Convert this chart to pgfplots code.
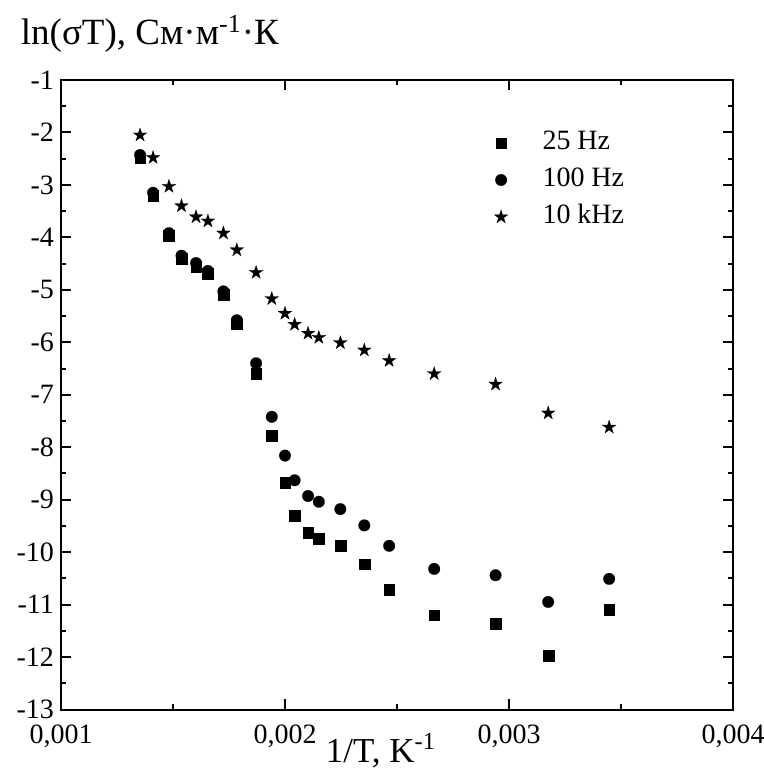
\documentclass[border=0pt]{standalone}
\usepackage{fontspec}
\setmainfont{Liberation Serif}
\usepackage{pgfplots}
\pgfplotsset{compat=1.18}
\usepackage{pgfplotstable}

\pgfdeclareplotmark{fstar}{%
  \pgfpathmoveto{\pgfpointpolar{90}{\pgfplotmarksize}}%
  \pgfpathlineto{\pgfpointpolar{126}{0.382\pgfplotmarksize}}%
  \pgfpathlineto{\pgfpointpolar{162}{\pgfplotmarksize}}%
  \pgfpathlineto{\pgfpointpolar{198}{0.382\pgfplotmarksize}}%
  \pgfpathlineto{\pgfpointpolar{234}{\pgfplotmarksize}}%
  \pgfpathlineto{\pgfpointpolar{270}{0.382\pgfplotmarksize}}%
  \pgfpathlineto{\pgfpointpolar{306}{\pgfplotmarksize}}%
  \pgfpathlineto{\pgfpointpolar{342}{0.382\pgfplotmarksize}}%
  \pgfpathlineto{\pgfpointpolar{18}{\pgfplotmarksize}}%
  \pgfpathlineto{\pgfpointpolar{54}{0.382\pgfplotmarksize}}%
  \pgfpathclose
  \pgfusepathqfillstroke}

\pgfplotstableread{
x        sq      ci      st
0.001353 -2.49   -2.43   -2.05
0.001411 -3.21   -3.15   -2.48
0.001482 -3.97   -3.92   -3.03
0.001538 -4.41   -4.35   -3.40
0.001603 -4.55   -4.49   -3.61
0.001656 -4.69   -4.64   -3.69
0.001725 -5.09   -5.03   -3.92
0.001785 -5.64   -5.58   -4.24
0.001871 -6.59   -6.40   -4.67
0.001941 -7.78   -7.42   -5.17
0.002000 -8.67   -8.16   -5.45
0.002043 -9.31   -8.63   -5.66
0.002103 -9.63   -8.93   -5.83
0.002151 -9.74   -9.04   -5.91
0.002247 -9.88   -9.18   -6.01
0.002354 -10.23  -9.49   -6.15
0.002465 -10.72  -9.88   -6.35
0.002666 -11.20  -10.32  -6.60
0.002940 -11.37  -10.44  -6.80
0.003175 -11.98  -10.95  -7.35
0.003447 -11.10  -10.51  -7.62
}\datatable

\begin{document}
\begin{tikzpicture}
\begin{axis}[
  name=ax,
  at={(0,0)}, anchor=south west,
  scale only axis,
  width=336pt, height=314.75pt,
  xmin=0.001, xmax=0.004,
  ymin=-13, ymax=-1,
  xtick={0.001,0.002,0.003,0.004},
  xticklabels={{0,001},{0,002},{0,003},{0,004}},
  scaled x ticks=false,
  ytick={-13,-12,...,-1},
  minor x tick num=1,
  minor y tick num=1,
  tick align=inside,
  major tick length=5pt,
  minor tick length=2.5pt,
  axis line style={line width=1pt},
  every tick/.style={black, line width=1pt},
  /pgf/number format/assume math mode=true,
  ticklabel style={font=\fontsize{14}{16}\selectfont},
  xticklabel style={yshift=-4pt},
  lgd/.style={legend image code/.code={\path (-3.6pt,0pt) (20.5pt,0pt); \draw[##1] plot coordinates {(0pt,0pt)};}},
  legend style={at={(rel axis cs:0.643,0.922)}, anchor=north west, draw=none, fill=none,
    inner sep=0pt, row sep=5pt,
    font=\fontsize{14}{17}\selectfont,
    nodes={inner sep=0pt, text height=10pt, text depth=3.5pt, anchor=west}},
]
\addplot[only marks, mark=square*, mark size=2.7pt, mark options={fill=black, draw=black, line width=0.1pt}, lgd] table[x=x, y=sq] {\datatable};
\addlegendentry{25 Hz}
\addplot[only marks, mark=*, mark size=2.9pt, mark options={fill=black, draw=black, line width=0.1pt}, lgd] table[x=x, y=ci] {\datatable};
\addlegendentry{100 Hz}
\addplot[only marks, mark=fstar, mark size=3.6pt, mark options={fill=black, draw=black, line width=0.1pt}, lgd] table[x=x, y=st] {\datatable};
\addlegendentry{10 kHz}
\end{axis}
\node[anchor=base west, font=\fontsize{18.5}{22}\selectfont, inner sep=0pt] at ([xshift=-20.25pt, yshift=17.5pt]ax.north west) {ln(σT), См·м\textsuperscript{-1}·К};
\node[anchor=base, font=\fontsize{17.5}{21}\selectfont, inner sep=0pt] at ([xshift=160pt, yshift=-26.5pt]ax.south west) {1/T, K\textsuperscript{-1}};
\pgfresetboundingbox
\useasboundingbox ([shift={(-30.5pt,-30.75pt)}]ax.south west) rectangle ([shift={(15.5pt,40pt)}]ax.north east);
\end{tikzpicture}
\end{document}
